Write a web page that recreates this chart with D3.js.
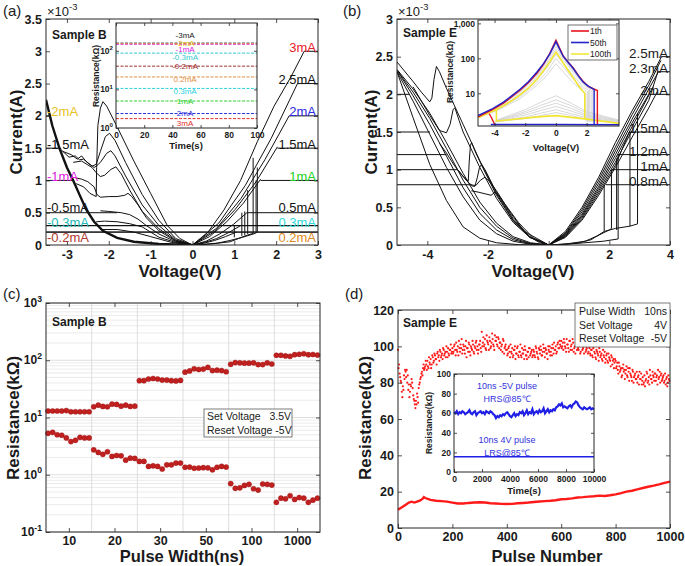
<!DOCTYPE html>
<html><head><meta charset="utf-8">
<script src="https://cdn.jsdelivr.net/npm/d3@7"></script>
<style>body{margin:0;background:#fff} text{white-space:pre}</style>
</head><body>
<script>
// ================= DATA =================
// ---- Panel (a): Sample B I-V ----
const aTicksX=[-3,-2,-1,0,1,2,3];
const aTicksY=[0,0.5,1,1.5,2,2.5,3,3.5];
const aEnvelope=[[-3.5,2.25],[-3.35,1.85],[-3.18,1.5],[-3.0,1.2],[-2.85,1.0],[-2.7,0.78],[-2.54,0.55],[-2.35,0.36],[-2.14,0.22],[-1.8,0.11],[-1.4,0.05],[-0.8,0.015],[0,0]];
const aReset=[
 [[0,0],[-0.3,0.1],[-0.6,0.3],[-1.0,0.8],[-1.4,1.3],[-1.8,1.83],[-2.05,2.15],[-2.14,2.22],[-2.2,2.12],[-2.26,1.85],[-2.29,1.2],[-2.3,0.75],[-2.45,0.8],[-2.6,0.9],[-2.78,0.95]],
 [[0,0],[-0.4,0.1],[-0.8,0.38],[-1.2,0.78],[-1.6,1.28],[-1.85,1.62],[-1.98,1.73],[-2.08,1.68],[-2.2,1.45],[-2.3,1.25],[-2.4,1.22],[-2.5,1.27],[-2.6,1.33],[-2.7,1.32],[-2.8,1.38],[-2.95,1.36],[-3.05,1.42],[-3.18,1.5]],
 [[0,0],[-0.4,0.08],[-0.8,0.3],[-1.2,0.62],[-1.6,1.07],[-1.85,1.38],[-1.95,1.46],[-2.05,1.42],[-2.2,1.28],[-2.3,1.22],[-2.35,1.2],[-2.45,1.25],[-2.55,1.3],[-2.65,1.38],[-2.75,1.33],[-2.9,1.4],[-3.1,1.45]],
 [[0,0],[-0.4,0.07],[-0.8,0.25],[-1.2,0.52],[-1.5,0.85],[-1.7,1.1],[-1.83,1.21],[-1.95,1.17],[-2.1,1.08],[-2.2,1.06],[-2.3,1.12],[-2.4,1.2],[-2.5,1.24],[-2.65,1.3],[-2.85,1.28]],
 [[0,0],[-0.4,0.06],[-0.8,0.22],[-1.1,0.42],[-1.3,0.62],[-1.45,0.75],[-1.54,0.8],[-1.62,0.77],[-1.8,0.75],[-2.0,0.75],[-2.2,0.74],[-2.28,0.78],[-2.35,0.9],[-2.5,0.98],[-2.65,1.02],[-2.8,1.04]],
 [[0,0],[-0.4,0.05],[-0.8,0.17],[-1.1,0.3],[-1.3,0.4],[-1.5,0.47],[-1.7,0.5],[-2.0,0.52],[-2.2,0.53]],
 [[0,0],[-0.4,0.04],[-0.8,0.12],[-1.0,0.2],[-1.2,0.28],[-1.5,0.33],[-1.8,0.36],[-2.1,0.37],[-2.3,0.36]],
 [[0,0],[-0.5,0.04],[-1.0,0.13],[-1.4,0.2],[-1.8,0.24],[-2.2,0.24]]
];
const aLRS=[
 [[0,0],[0.35,0.18],[0.75,0.54],[1.15,1.0],[1.55,1.6],[1.95,2.15],[2.35,2.6],[2.67,3.0]],
 [[0,0],[0.63,0.34],[1.26,0.92],[1.88,1.65],[2.51,2.5]],
 [[0,0],[0.58,0.26],[1.16,0.72],[1.73,1.32],[2.31,2.0]],
 [[0,0],[0.51,0.2],[1.02,0.55],[1.52,0.98],[2.03,1.52]],
 [[0,0],[0.41,0.13],[0.82,0.36],[1.22,0.65],[1.63,1.02]],
 [[0,0],[0.33,0.06],[0.65,0.17],[0.98,0.32],[1.3,0.5]],
 [[0,0],[0.29,0.04],[0.58,0.1],[0.86,0.19],[1.15,0.3]],
 [[0,0],[0.26,0.025],[0.53,0.07],[0.79,0.13],[1.05,0.2]]
];
const aHRSset=[
 [[0,0],[0.3,0.01],[0.6,0.03],[0.9,0.07],[1.2,0.12],[1.5,0.18],[1.55,0.2]],
 [[0,0],[0.5,0.02],[0.9,0.05],[1.1,0.1],[1.3,0.15],[1.45,0.18]]
];
const aSetJumps=[[1.0,0.12,0.31],[1.18,0.14,0.5],[1.25,0.15,0.52],[1.32,0.17,0.85],[1.45,0.18,1.35],[1.52,0.2,1.0],[1.55,0.2,1.2]];
const aCompI=[3,2.5,2,1.5,1,0.5,0.3,0.2];
const aCompV=[2.67,2.51,2.31,2.03,1.63,1.3,-3.5,-3.5];
const aRightLabels=["3mA","2.5mA","2mA","1.5mA","1mA","0.5mA","0.3mA","0.2mA"];
const aLeftI=[2,1.5,1,0.5,0.3,0.2];
const aLeftEnd=[-3.42,-3.18,-2.85,-1.8,3,3];
const aLeftLabels=["-2mA","-1.5mA","-1mA","-0.5mA","-0.3mA","-0.2mA"];
// inset (a): retention
const aInsetTicksX=[0,20,40,60,80,100];
const aInsetNames=["-3mA","-2mA","-1mA","-0.3mA","-0.2mA","0.2mA","0.3mA","1mA","2mA","3mA"];
const aInsetR=[158,152,148,87,40,21,10.6,5.0,2.37,1.75];
const aInsetLabelR=[256,162,111,70,40,18.3,9.3,5.0,2.4,1.32];
const aInsetTime=[0,100];

// ---- Panel (b): Sample E I-V ----
const bTicksX=[-4,-2,0,2,4];
const bTicksY=[0,0.5,1,1.5,2,2.5,3];
const bHRSleft=[
 [[-5,2.3],[-4.47,1.69],[-3.92,1.07],[-3.37,0.59],[-2.82,0.24],[-2.27,0.09],[-1.72,0.03],[-1,0.005],[0,0]],
 [[-5,2.3],[-4.47,1.91],[-3.92,1.47],[-3.37,1.03],[-2.82,0.64],[-2.27,0.33],[-1.72,0.15],[-1.17,0.05],[-0.6,0.01],[0,0]],
 [[-5,2.32],[-4.47,1.98],[-3.92,1.6],[-3.37,1.18],[-2.82,0.76],[-2.27,0.42],[-1.72,0.2],[-1.17,0.07],[-0.6,0.015],[0,0]],
 [[-5,2.32],[-4.47,2.03],[-3.92,1.68],[-3.37,1.28],[-2.82,0.86],[-2.27,0.5],[-1.72,0.25],[-1.17,0.09],[-0.6,0.02],[0,0]],
 [[-5,2.33],[-4.47,2.07],[-3.92,1.75],[-3.37,1.36],[-2.82,0.95],[-2.27,0.57],[-1.72,0.29],[-1.17,0.11],[-0.6,0.03],[0,0]]
];
const bReset=[
 [[-5,2.43],[-4.47,2.17],[-4.2,2.03],[-3.92,1.9],[-3.85,1.95],[-3.78,2.2],[-3.7,2.37],[-3.6,2.3],[-3.37,2.08],[-2.82,1.6],[-2.27,1.12],[-1.72,0.68],[-1.17,0.33],[-0.62,0.11],[-0.3,0.03],[0,0]],
 [[-4.47,2.1],[-3.92,1.72],[-3.6,1.52],[-3.37,1.49],[-3.25,1.6],[-3.15,1.8],[-3.09,1.82],[-2.95,1.65],[-2.82,1.5],[-2.27,1.03],[-1.72,0.62],[-1.17,0.3],[-0.62,0.1],[0,0]],
 [[-3.6,1.35],[-3.37,1.22],[-3.1,1.05],[-2.8,0.9],[-2.65,0.85],[-2.62,1.1],[-2.58,1.32],[-2.54,1.36],[-2.4,1.22],[-2.2,1.05],[-1.72,0.66],[-1.17,0.32],[-0.62,0.1],[0,0]],
 [[-3.0,1.0],[-2.7,0.85],[-2.5,0.78],[-2.43,0.78],[-2.35,0.9],[-2.28,1.03],[-2.21,1.07],[-2.1,1.0],[-1.72,0.7],[-1.17,0.35],[-0.62,0.11],[0,0]],
 [[-2.6,0.8],[-2.4,0.79],[-2.25,0.86],[-2.1,0.9],[-1.95,0.84],[-1.72,0.72],[-1.3,0.45],[-0.8,0.18],[0,0]],
 [[-2.55,0.72],[-2.3,0.7],[-2.1,0.68],[-1.9,0.66],[-1.77,0.7],[-1.65,0.66],[-1.4,0.52],[-1.0,0.3],[-0.5,0.09],[0,0]]
];
const bBundle=[
 [[0,0],[0.55,0.18],[1.1,0.5],[1.65,0.9],[2.2,1.36],[2.75,1.78],[3.3,2.17],[3.72,2.5]],
 [[0,0],[0.55,0.16],[1.1,0.47],[1.65,0.86],[2.2,1.3],[2.75,1.73],[3.3,2.12],[3.7,2.45]],
 [[0,0],[0.55,0.15],[1.1,0.44],[1.65,0.82],[2.2,1.25],[2.75,1.67],[3.3,2.07],[3.62,2.3]],
 [[0,0],[0.55,0.14],[1.1,0.41],[1.65,0.78],[2.2,1.2],[2.75,1.62],[3.3,2.0],[3.45,2.1]],
 [[0,0],[0.55,0.13],[1.1,0.39],[1.65,0.75],[2.2,1.15],[2.75,1.57],[3.32,2.0]],
 [[0,0],[0.55,0.12],[1.1,0.37],[1.65,0.72],[2.2,1.1],[2.75,1.52],[3.3,1.92],[3.6,2.3]],
 [[0,0],[0.55,0.11],[1.1,0.35],[1.65,0.69],[2.2,1.06],[2.66,1.5]],
 [[0,0],[0.55,0.1],[1.1,0.33],[1.65,0.66],[2.2,1.03],[2.75,1.43],[3.3,1.82],[3.6,2.05]]
];
const bHRSset=[
 [[0,0],[0.5,0.01],[1.0,0.03],[1.4,0.07],[1.83,0.18],[2.2,0.22],[2.68,0.25],[2.93,0.28]],
 [[0,0],[0.6,0.01],[1.2,0.03],[1.8,0.05],[2.29,0.08]],
 [[0,0],[0.6,0.015],[1.2,0.05],[1.6,0.12],[2.0,0.2],[2.07,0.22]]
];
const bSetJumps=[[1.83,0.18,0.8],[2.07,0.22,1.0],[2.29,0.08,1.2],[2.24,0.2,1.15],[2.68,0.25,1.5],[2.93,0.28,1.75]];
const bCompI=[2.5,2.3,2,1.5,1.2,1,0.8];
const bCompV=[3.71,3.6,3.32,2.66,2.28,2.07,1.89];
const bRightLabels=["2.5mA","2.3mA","2mA","1.5mA","1.2mA","1mA","0.8mA"];
const bLeftI=[2,1.5,1.2,1,0.8];
const bLeftEnd=[-4.58,-3.91,-3.37,-2.99,-2.55];
// inset (b): R-V cycles
const bInsetTicksX=[-4,-2,0,2];
const bInsetTicksY=[10,100,1000];
const bInsetTickLabels=["10","100","1,000"];
const bGrayHRS=[
 [[-5.08,2.0],[-3.85,3.2],[-2.34,7],[-1.25,17],[-0.6,32],[0,70],[0.5,40],[1.12,20],[1.8,11],[1.95,10],[1.95,1.5]],
 [[-5.08,2.0],[-3.85,3.3],[-2.34,8],[-1.25,20],[-0.6,40],[0,100],[0.5,55],[1.12,26],[1.8,13],[2.05,11],[2.05,1.5]],
 [[-5.08,2.05],[-3.85,3.5],[-2.34,9],[-1.25,24],[-0.6,52],[0,130],[0.5,70],[1.12,32],[1.8,15],[2.12,12],[2.12,1.5]],
 [[-5.08,2.1],[-3.85,3.8],[-2.34,10],[-1.25,29],[-0.6,70],[0,180],[0.5,90],[1.12,40],[1.8,18],[2.2,12.5],[2.2,1.5]],
 [[-5.08,2.2],[-3.85,4.0],[-2.34,11],[-1.25,32],[-0.6,80],[0,220],[0.5,100],[1.12,45],[1.8,19],[2.3,12.5],[2.3,1.5]],
 [[-5.08,2.25],[-3.85,4.2],[-2.34,12],[-1.25,35],[-0.6,88],[0,255],[0.5,108],[1.12,48],[1.8,20],[2.4,13],[2.4,1.5]]
];
const bGrayLRS=[
 [[-4.0,1.5],[-2,1.9],[-1,2.3],[0,2.8],[1,2.3],[2,1.8],[4.11,1.45]],
 [[-4.0,1.55],[-2,2.1],[-1,2.7],[0,3.4],[1,2.6],[2,2.0],[4.11,1.5]],
 [[-3.95,1.6],[-2,2.4],[-1,3.2],[0,4.2],[1,3.1],[2,2.2],[4.11,1.55]],
 [[-3.95,1.6],[-2,2.7],[-1,3.8],[0,5.2],[1,3.7],[2,2.4],[4.11,1.6]],
 [[-3.9,1.65],[-2,3.0],[-1,4.5],[0,6.5],[1,4.4],[2,2.7],[4.11,1.65]],
 [[-3.9,1.7],[-2,3.4],[-1,5.5],[0,8.5],[1,5.2],[2,3.0],[4.11,1.7]]
];
const bRed=[[-5.08,2.1],[-4.6,2.7],[-4.2,3.3],[-3.42,5.2],[-2.8,8.5],[-2.34,12.3],[-1.8,20],[-1.25,37],[-0.8,68],[-0.4,140],[0,330],[0.25,190],[0.47,118],[0.8,78],[1.12,54],[1.45,33],[1.77,22],[2.1,16],[2.42,13.5],[2.7,12],[2.7,1.3]];
const bRedReset=[[-4.0,1.3],[-4.2,2.0],[-4.35,2.6]];
const bBlue=[[-5.08,2.3],[-4.6,2.9],[-4.2,3.5],[-3.42,5.6],[-2.8,9],[-2.34,13],[-1.8,21.5],[-1.25,40],[-0.8,72],[-0.4,135],[0,300],[0.25,180],[0.47,115],[0.8,76],[1.12,52],[1.45,32],[1.77,21],[2.1,16],[2.49,13],[2.49,1.28]];
const bBlueLRS=[[-4.25,1.28],[0,1.28],[4.11,1.26]];
const bYellow=[[-5.08,2.0],[-4.5,2.6],[-3.85,3.5],[-3.42,4.4],[-2.8,6.5],[-2.34,9],[-1.8,14],[-1.25,25],[-0.8,45],[-0.4,80],[0,150],[0.25,105],[0.5,70],[0.8,45],[1.12,28],[1.45,17],[1.7,12],[1.88,10],[1.88,1.85]];
const bYellowLRS=[[-3.88,3.6],[-3.88,1.62],[-3,1.75],[-2,1.95],[-1,2.15],[0,2.3],[1,2.05],[1.88,1.85],[3,1.6],[4.11,1.38]];
const bLegend=["1th","50th","100th"];

// ---- Panel (c): Sample B pulse width ----
const cGroups=["10","20","30","50","100","1000"];
const cHRS=[
 [13,13,13,13,13.2,12.6,12.6,12.6,12.6,12.6],
 [15.4,16.4,15.6,15.4,17.1,16.9,15.8,16.4,15.6,15.8],
 [44,44,47,48,47,45,45,44,43.5,44.5],
 [62,65,71,69,70,75,66,67,66,63],
 [85,91,90,89,89,90,84,84,90,86],
 [122,122,119,117,125,127,130,125,126,123]
];
const cLRS=[
 [5.3,5.5,5.0,4.9,4.4,3.8,4.0,4.5,4.4,4.4],
 [2.73,2.45,2.27,2.52,2.09,2.17,2.14,1.80,1.95,1.93],
 [1.71,1.71,1.40,1.43,1.40,1.26,1.49,1.49,1.60,1.60],
 [1.35,1.36,1.30,1.31,1.33,1.32,1.22,1.35,1.40,1.36],
 [0.70,0.58,0.59,0.65,0.68,0.57,0.54,0.69,0.68,0.66],
 [0.33,0.39,0.38,0.43,0.37,0.40,0.39,0.33,0.36,0.39]
];
const cDecades=[0.1,1,10,100,1000];
const cDecadeExp=["-1","0","1","2","3"];

// ---- Panel (d): Sample E endurance ----
const dTicksX=[0,200,400,600,800,1000];
const dTicksY=[0,20,40,60,80,100,120];
const dHrsStep=4;
const dHRS=[
 98,90,83,80,72,76,82,86,87,84,79,75,78,80,73,70,66,68,72,77,80,83,86,88,87,
 89,90,92,88,91,93,90,94,92,95,93,96,94,92,97,95,93,98,96,94,97,99,95,98,96,
 99,97,101,95,98,100,103,97,99,96,101,98,100,94,99,102,97,100,98,101,96,99,103,100,98,
 101,99,108,102,100,104,98,103,101,105,99,102,104,100,106,103,101,105,99,102,100,97,103,99,101,
 98,96,100,94,97,99,95,98,93,96,100,94,97,95,99,96,93,98,95,97,94,99,96,98,95,
 97,94,99,96,93,98,100,95,97,99,94,98,96,100,97,95,99,101,96,98,100,97,102,99,101,
 103,100,98,102,99,104,101,97,103,100,98,102,99,96,101,103,98,100,97,102,99,96,100,98,101,
 97,99,95,98,94,100,96,93,97,95,99,94,96,92,95,97,93,96,91,94,92,95,90,93,91,
 92,89,87,91,86,88,84,90,87,85,89,83,86,88,84,81,86,83,85,82,80,84,86,82,79,
 83,80,78,82,85,81,79,84,82,86,83,85,81,84,87,83,80,85,82,84,81,79,83,80,82
];
const dHRS2=[
 88,85,81,75,78,84,87,83,80,76,72,79,82,77,71,68,70,74,69,79,82,85,84,90,88,
 92,87,89,94,90,88,95,91,96,93,90,97,95,98,94,96,99,95,97,100,94,96,98,101,97,
 96,100,98,102,97,95,99,101,104,98,100,96,103,99,97,101,95,99,103,97,100,102,98,96,101,
 103,97,100,105,101,99,106,102,98,103,100,107,101,98,103,105,100,104,102,98,101,104,96,100,98,
 95,99,97,101,96,94,98,100,96,99,95,97,101,94,96,98,100,95,93,97,99,95,97,94,98,
 95,100,97,94,99,96,98,95,101,97,99,96,93,98,100,97,95,99,102,98,96,101,99,103,100,
 99,102,104,100,97,101,99,103,98,101,104,97,100,102,98,99,101,96,102,98,100,103,97,99,96,
 100,96,98,95,99,97,94,98,96,92,97,95,93,98,94,91,95,92,96,93,89,94,92,88,93,
 88,91,85,89,87,83,88,86,82,87,84,88,81,85,83,87,80,84,82,86,83,79,82,85,81,
 79,84,81,86,80,83,87,82,80,84,81,85,83,79,82,86,84,81,83,80,85,82,78,84,81
];
const dLrsPulse=[0,10,20,30,40,50,60,70,80,90,95,100,120,140,160,180,200,220,240,260,280,300,320,340,360,380,400,420,440,460,480,500,520,540,560,580,600,620,640,660,680,700,720,740,760,780,800,820,840,860,880,900,920,940,960,980,1000];
const dLrsVal=[10,11,12,13,14,14.5,14,14.5,15,16,17,16.5,15.5,15,14.8,14.5,14,13.5,13.5,13.8,14,14.2,14,13.6,13.5,13.3,13.2,13.3,13.6,13.8,14,14.3,14.6,14.8,15,15.3,15.8,16,16.3,16.8,17,17.3,17.5,17.8,17.6,18,18.5,19.2,20,20.5,21.3,22,22.7,23.3,24,24.8,25.5];
// inset (d): retention at 85C
const dInTicksX=[0,2000,4000,6000,8000,10000];
const dInTicksY=[0,20,40,60,80,100];
const dInStep=100;
const dInHRS=[61,60,62,59,61,60,62,61,59,60,61,63,60,59,61,62,58,60,61,62,60,61,59,62,61,60,62,61,59,58,
 55,57,56,58,57,59,58,60,61,59,
 57,56,58,60,57,59,58,61,60,62,
 58,60,63,59,61,60,64,59,61,62,
 60,63,61,62,65,60,62,64,61,63,
 62,64,63,66,67,69,68,70,66,67,
 66,65,67,68,66,69,70,72,71,68,
 66,65,64,66,65,64,65,66,64,65,64];
const dInLRS=[[0,15.5],[10000,15.5]];

// ================= DRAWING =================
const FONT="Arial, 'Liberation Sans', Helvetica, sans-serif";
const AX="#262626";
const svg=d3.select("body").append("svg").attr("width",685).attr("height",566).style("font-family",FONT);
svg.append("rect").attr("width",685).attr("height",566).attr("fill","#fff");

function axes(g,x,y,o){
  const [x0,x1]=x.range(),[y0,y1]=y.range(),tl=o.tl??4,fs=o.fs??12;
  const parts=[];
  parts.push(g.append("g").attr("transform",`translate(0,${y0})`).call(d3.axisBottom(x).tickValues(o.xt).tickFormat(o.xf||(d=>String(d))).tickSizeInner(-tl).tickSizeOuter(0).tickPadding(o.xpad??5)));
  parts.push(g.append("g").attr("transform",`translate(0,${y1})`).call(d3.axisTop(x).tickValues(o.xtTop||o.xt).tickFormat("").tickSizeInner(-tl).tickSizeOuter(0)));
  parts.push(g.append("g").attr("transform",`translate(${x0},0)`).call(d3.axisLeft(y).tickValues(o.yt).tickFormat(o.yf||(d=>String(d))).tickSizeInner(-tl).tickSizeOuter(0).tickPadding(o.ypad??4)));
  parts.push(g.append("g").attr("transform",`translate(${x1},0)`).call(d3.axisRight(y).tickValues(o.yt).tickFormat("").tickSizeInner(-tl).tickSizeOuter(0)));
  parts.forEach(a=>{a.select(".domain").remove();a.selectAll("line").attr("stroke",AX).attr("stroke-width",0.8);
    a.selectAll("text").attr("font-size",fs).attr("font-weight","bold").attr("fill","#1a1a1a").attr("font-family",FONT);});
  g.append("rect").attr("x",x0).attr("y",y1).attr("width",x1-x0).attr("height",y0-y1).attr("fill","none").attr("stroke",AX).attr("stroke-width",1);
}
function txt(g,x,y,s,o={}){
  const t=g.append("text").attr("x",x).attr("y",y).text(s).attr("font-size",o.fs||12).attr("font-weight",o.fw||"normal")
   .attr("fill",o.fill||"#1a1a1a").attr("text-anchor",o.anchor||"start").attr("font-family",FONT).attr("xml:space","preserve");
  if(o.rot) t.attr("transform",`rotate(-90,${x},${y})`);
  return t;
}
function supText(g,x,y,base,exp,o={}){
  const t=g.append("text").attr("x",x).attr("y",y).attr("font-size",o.fs||12).attr("font-weight",o.fw||"normal")
   .attr("fill","#1a1a1a").attr("text-anchor",o.anchor||"start").attr("font-family",FONT);
  t.append("tspan").text(base);
  t.append("tspan").text(exp).attr("dy",-(o.fs||12)*0.45).attr("font-size",(o.fs||12)*0.72);
  return t;
}
// label baseline offset relative to its compliance line (text sits on the line; 0.2 mA sits below)
const labOff=I=>I===0.2?10:(I===0.3?1.5:(I===0.5?-0.5:0.5));

// ---------- Panel (a) ----------
{
const g=svg.append("g");
const x=d3.scaleLinear([-3.5,3],[46,318]), y=d3.scaleLinear([0,3.5],[245,19]);
const L=d3.line().x(d=>x(d[0])).y(d=>y(d[1]));
g.append("defs").append("clipPath").attr("id","clipA").append("rect").attr("x",46).attr("y",19).attr("width",272).attr("height",226);
const p=g.append("g").attr("clip-path","url(#clipA)");
const st=(sel,w)=>sel.attr("fill","none").attr("stroke","#111").attr("stroke-width",w||1);
aCompI.forEach((I,i)=>st(p.append("path").attr("d",L([[aCompV[i],I],[3,I]]))));
aLeftI.forEach((I,i)=>st(p.append("path").attr("d",L([[-3.5,I],[aLeftEnd[i],I]]))));
aLRS.forEach(c=>st(p.append("path").attr("d",L(c))));
aHRSset.forEach(c=>st(p.append("path").attr("d",L(c))));
aSetJumps.forEach(s=>st(p.append("path").attr("d",L([[s[0],s[1]],[s[0],s[2]]]))));
aReset.forEach(c=>st(p.append("path").attr("d",L(c))));
st(p.append("path").attr("d",L(aEnvelope)),2.4);
axes(g,x,y,{xt:aTicksX,yt:aTicksY,fs:12.5,xpad:5,ypad:4});
const rc=["#e8202a","#111","#2a2ae0","#111","#22d022","#111","#30d8d8","#e08a20"];
aRightLabels.forEach((s,i)=>txt(g,316,y(aCompI[i])+labOff(aCompI[i]),s,{fs:13,anchor:"end",fill:rc[i]}));
const lc=["#e8c020","#111","#e020e0","#111","#20b8b8","#b03a2e"];
aLeftLabels.forEach((s,i)=>txt(g,47,y(aLeftI[i])+labOff(aLeftI[i]),s,{fs:13,fill:lc[i]}));
txt(g,52,39,"Sample B",{fs:12,fw:"bold"});
supText(g,47,16,"×10","-3",{fs:13});
txt(g,3,16,"(a)",{fs:15});
txt(g,180,277,"Voltage(V)",{fs:17,fw:"bold",anchor:"middle"});
txt(g,22,132,"Current(A)",{fs:17,fw:"bold",anchor:"middle",rot:true});
// inset
const xi=d3.scaleLinear([0,100],[116,257]), yi=d3.scaleLog([1,525],[128,23]);
g.append("rect").attr("x",116).attr("y",23).attr("width",141).attr("height",105).attr("fill","#fff");
const Li=d3.line().x(d=>xi(d[0])).y(d=>yi(d[1]));
const ic=["#222","#e8c020","#e020e0","#30c8d0","#a03030","#e09040","#30d0e0","#30d030","#3030e0","#e03030"];
aInsetR.forEach((r,i)=>g.append("path").attr("d",Li(aInsetTime.map(t=>[t,r]))).attr("fill","none").attr("stroke",ic[i]).attr("stroke-width",1).attr("stroke-dasharray","3,1.5"));
aInsetNames.forEach((s,i)=>txt(g,xi(49),yi(aInsetLabelR[i])+3,s,{fs:8,anchor:"middle",fill:ic[i]}));
axes(g,xi,yi,{xt:aInsetTicksX,yt:[1,10,100],yf:()=>"",fs:8.5,tl:3,xpad:4});
[[1,"0"],[10,"1"],[100,"2"]].forEach(([v,e])=>supText(g,113,yi(v)+3,"10",e,{fs:8.5,fw:"bold",anchor:"end"}));
txt(g,186,149,"Time(s)",{fs:9.5,fw:"bold",anchor:"middle"});
txt(g,99,76,"Resistance(kΩ)",{fs:8.5,fw:"bold",anchor:"middle",rot:true});
}

// ---------- Panel (b) ----------
{
const g=svg.append("g");
const x=d3.scaleLinear([-5,4],[397,670]), y=d3.scaleLinear([0,3],[245,19]);
const L=d3.line().x(d=>x(d[0])).y(d=>y(d[1]));
g.append("defs").append("clipPath").attr("id","clipB").append("rect").attr("x",397).attr("y",19).attr("width",273).attr("height",226);
const p=g.append("g").attr("clip-path","url(#clipB)");
const st=(sel,w)=>sel.attr("fill","none").attr("stroke","#111").attr("stroke-width",w||1);
bCompI.forEach((I,i)=>st(p.append("path").attr("d",L([[bCompV[i],I],[4,I]]))));
bLeftI.forEach((I,i)=>st(p.append("path").attr("d",L([[-5,I],[bLeftEnd[i],I]]))));
bBundle.forEach(c=>st(p.append("path").attr("d",L(c))));
bHRSset.forEach(c=>st(p.append("path").attr("d",L(c))));
bSetJumps.forEach(s=>st(p.append("path").attr("d",L([[s[0],s[1]],[s[0],s[2]]]))));
bHRSleft.forEach(c=>st(p.append("path").attr("d",L(c))));
bReset.forEach(c=>st(p.append("path").attr("d",L(c))));
axes(g,x,y,{xt:bTicksX,yt:bTicksY,fs:12.5,xpad:5,ypad:4});
bRightLabels.forEach((s,i)=>txt(g,668,y(bCompI[i])+1,s,{fs:13.5,anchor:"end"}));
txt(g,403,37,"Sample E",{fs:12,fw:"bold"});
supText(g,398,16,"×10","-3",{fs:13});
txt(g,343,16,"(b)",{fs:15});
txt(g,533,277,"Voltage(V)",{fs:17,fw:"bold",anchor:"middle"});
txt(g,377,132,"Current(A)",{fs:17,fw:"bold",anchor:"middle",rot:true});
// inset
const xi=d3.scaleLinear([-5.08,4.11],[478,619]), yi=d3.scaleLog([1.16,1250],[126,20]);
g.append("rect").attr("x",478).attr("y",20).attr("width",141).attr("height",106).attr("fill","#fff");
g.append("defs").append("clipPath").attr("id","clipBi").append("rect").attr("x",478).attr("y",20).attr("width",141).attr("height",106);
const q=g.append("g").attr("clip-path","url(#clipBi)");
const Li=d3.line().x(d=>xi(d[0])).y(d=>yi(d[1]));
bGrayLRS.forEach(c=>q.append("path").attr("d",Li(c)).attr("fill","none").attr("stroke","#d4d4d4").attr("stroke-width",0.9));
bGrayHRS.forEach(c=>q.append("path").attr("d",Li(c)).attr("fill","none").attr("stroke","#d4d4d4").attr("stroke-width",0.9));
const yel="#f2e634",red="#e8141c",blu="#2424c8";
q.append("path").attr("d",Li(bYellow)).attr("fill","none").attr("stroke",yel).attr("stroke-width",1.6);
q.append("path").attr("d",Li(bYellowLRS)).attr("fill","none").attr("stroke",yel).attr("stroke-width",1.6);
q.append("path").attr("d",Li(bRed)).attr("fill","none").attr("stroke",red).attr("stroke-width",1.4);
q.append("path").attr("d",Li(bRedReset)).attr("fill","none").attr("stroke",red).attr("stroke-width",1.4);
q.append("path").attr("d",Li(bBlue)).attr("fill","none").attr("stroke",blu).attr("stroke-width",1.4);
q.append("path").attr("d",Li(bBlueLRS)).attr("fill","none").attr("stroke",blu).attr("stroke-width",1.4);
axes(g,xi,yi,{xt:bInsetTicksX,yt:bInsetTicksY,yf:d=>bInsetTickLabels[bInsetTicksY.indexOf(d)],fs:8.5,tl:3,xpad:4,ypad:3});
txt(g,556,151,"Voltage(V)",{fs:9.5,fw:"bold",anchor:"middle"});
txt(g,453,72,"Resistance(kΩ)",{fs:8.5,fw:"bold",anchor:"middle",rot:true});
g.append("rect").attr("x",568).attr("y",25).attr("width",49).attr("height",35).attr("fill","#fff").attr("stroke","#333").attr("stroke-width",0.7);
[red,blu,yel].forEach((c,i)=>{const yy=31+i*11.5;
  g.append("line").attr("x1",571).attr("x2",589).attr("y1",yy).attr("y2",yy).attr("stroke",c).attr("stroke-width",1.6);
  txt(g,590,yy+3,bLegend[i],{fs:8.5});});
}

// ---------- Panel (c) ----------
{
const g=svg.append("g");
const x=d3.scaleLinear([0,60],[46,320]), y=d3.scaleLog([0.1,1000],[532,303]);
const grid=g.append("g");
cDecades.slice(0,4).forEach(d=>{for(let k=2;k<=9;k++)grid.append("line").attr("x1",46).attr("x2",320).attr("y1",y(k*d)).attr("y2",y(k*d)).attr("stroke","#e6e6e6").attr("stroke-width",0.8);});
cDecades.forEach(d=>grid.append("line").attr("x1",46).attr("x2",320).attr("y1",y(d)).attr("y2",y(d)).attr("stroke","#d6d6d6").attr("stroke-width",0.8));
[10,20,30,40,50].forEach(v=>grid.append("line").attr("x1",x(v)).attr("x2",x(v)).attr("y1",303).attr("y2",532).attr("stroke","#d6d6d6").attr("stroke-width",0.8));
const pts=[];
cHRS.forEach((gv,gi)=>gv.forEach((v,j)=>pts.push([gi*10+j+0.45,v])));
cLRS.forEach((gv,gi)=>gv.forEach((v,j)=>pts.push([gi*10+j+0.45,v])));
g.append("g").selectAll("circle").data(pts).join("circle").attr("cx",d=>x(d[0])).attr("cy",d=>y(d[1])).attr("r",2.6).attr("fill","#c0201f").attr("stroke","#9a1414").attr("stroke-width",0.4);
axes(g,x,y,{xt:[5,15,25,35,45,55],xf:(d,i)=>cGroups[i],yt:cDecades,yf:()=>"",fs:12.5,xpad:4});
cDecades.forEach((d,i)=>supText(g,42,y(d)+4,"10",cDecadeExp[i],{fs:12,fw:"bold",anchor:"end"}));
txt(g,52,326,"Sample B",{fs:12,fw:"bold"});
g.append("rect").attr("x",204).attr("y",409).attr("width",88).attr("height",28).attr("fill","#fff").attr("stroke","#444").attr("stroke-width",0.7);
txt(g,207,420,"Set Voltage   3.5V",{fs:10.5});
txt(g,207,434,"Reset Voltage -5V",{fs:10.5});
txt(g,3,299,"(c)",{fs:15});
txt(g,182,562,"Pulse Width(ns)",{fs:16.5,fw:"bold",anchor:"middle"});
txt(g,19,418,"Resistance(kΩ)",{fs:17,fw:"bold",anchor:"middle",rot:true});
}

// ---------- Panel (d) ----------
{
const g=svg.append("g");
const x=d3.scaleLinear([0,1000],[398,670]), y=d3.scaleLinear([0,120],[528,310]);
const dots=g.append("g").attr("fill","#ff1a1a");
dots.selectAll("circle.h1").data(dHRS).join("circle").attr("class","h1").attr("cx",(d,i)=>x(i*dHrsStep)).attr("cy",d=>y(d)).attr("r",1.1);
dots.selectAll("circle.h2").data(dHRS2).join("circle").attr("class","h2").attr("cx",(d,i)=>x(i*dHrsStep+2)).attr("cy",d=>y(d)).attr("r",1.1);
const L=d3.line().x((d,i)=>x(dLrsPulse[i])).y(d=>y(d));
g.append("path").attr("d",L(dLrsVal)).attr("fill","none").attr("stroke","#ff1a1a").attr("stroke-width",2.4);
axes(g,x,y,{xt:dTicksX,yt:dTicksY,fs:12.5,xpad:4,ypad:4});
txt(g,403,327,"Sample E",{fs:12,fw:"bold"});
g.append("rect").attr("x",575).attr("y",303).attr("width",95).attr("height",44).attr("fill","#fff").attr("stroke","#444").attr("stroke-width",0.7);
[["Pulse Width","10ns"],["Set Voltage","4V"],["Reset Voltage","-5V"]].forEach((r,i)=>{
  txt(g,579,315+i*13.5,r[0],{fs:10.5}); txt(g,667,315+i*13.5,r[1],{fs:10.5,anchor:"end"});});
txt(g,345,299,"(d)",{fs:15});
txt(g,547,562,"Pulse Number",{fs:16.5,fw:"bold",anchor:"middle"});
txt(g,371,418,"Resistance(kΩ)",{fs:17,fw:"bold",anchor:"middle",rot:true});
// inset
const xi=d3.scaleLinear([0,10000],[454,594]), yi=d3.scaleLinear([0,100],[472,374]);
g.append("rect").attr("x",454).attr("y",374).attr("width",140).attr("height",98).attr("fill","#fff");
const Li=d3.line().x((d,i)=>xi(i*dInStep)).y(d=>yi(d));
g.append("path").attr("d",Li(dInHRS)).attr("fill","none").attr("stroke","#1f1fe6").attr("stroke-width",2.2);
g.append("path").attr("d",d3.line().x(d=>xi(d[0])).y(d=>yi(d[1]))(dInLRS)).attr("fill","none").attr("stroke","#1f1fe6").attr("stroke-width",1.4);
axes(g,xi,yi,{xt:dInTicksX,yt:dInTicksY,fs:8.5,tl:3,xpad:4,ypad:3});
const bc="#3333dd";
txt(g,507,389,"10ns -5V pulse",{fs:9,anchor:"middle",fill:bc});
txt(g,507,402,"HRS@85℃",{fs:9,anchor:"middle",fill:bc});
txt(g,507,443,"10ns 4V pulse",{fs:9,anchor:"middle",fill:bc});
txt(g,507,456,"LRS@85℃",{fs:9,anchor:"middle",fill:bc});
txt(g,524,494,"Time(s)",{fs:9.5,fw:"bold",anchor:"middle"});
txt(g,432,423,"Resistance(kΩ)",{fs:8.5,fw:"bold",anchor:"middle",rot:true});
}
</script>
</body></html>
